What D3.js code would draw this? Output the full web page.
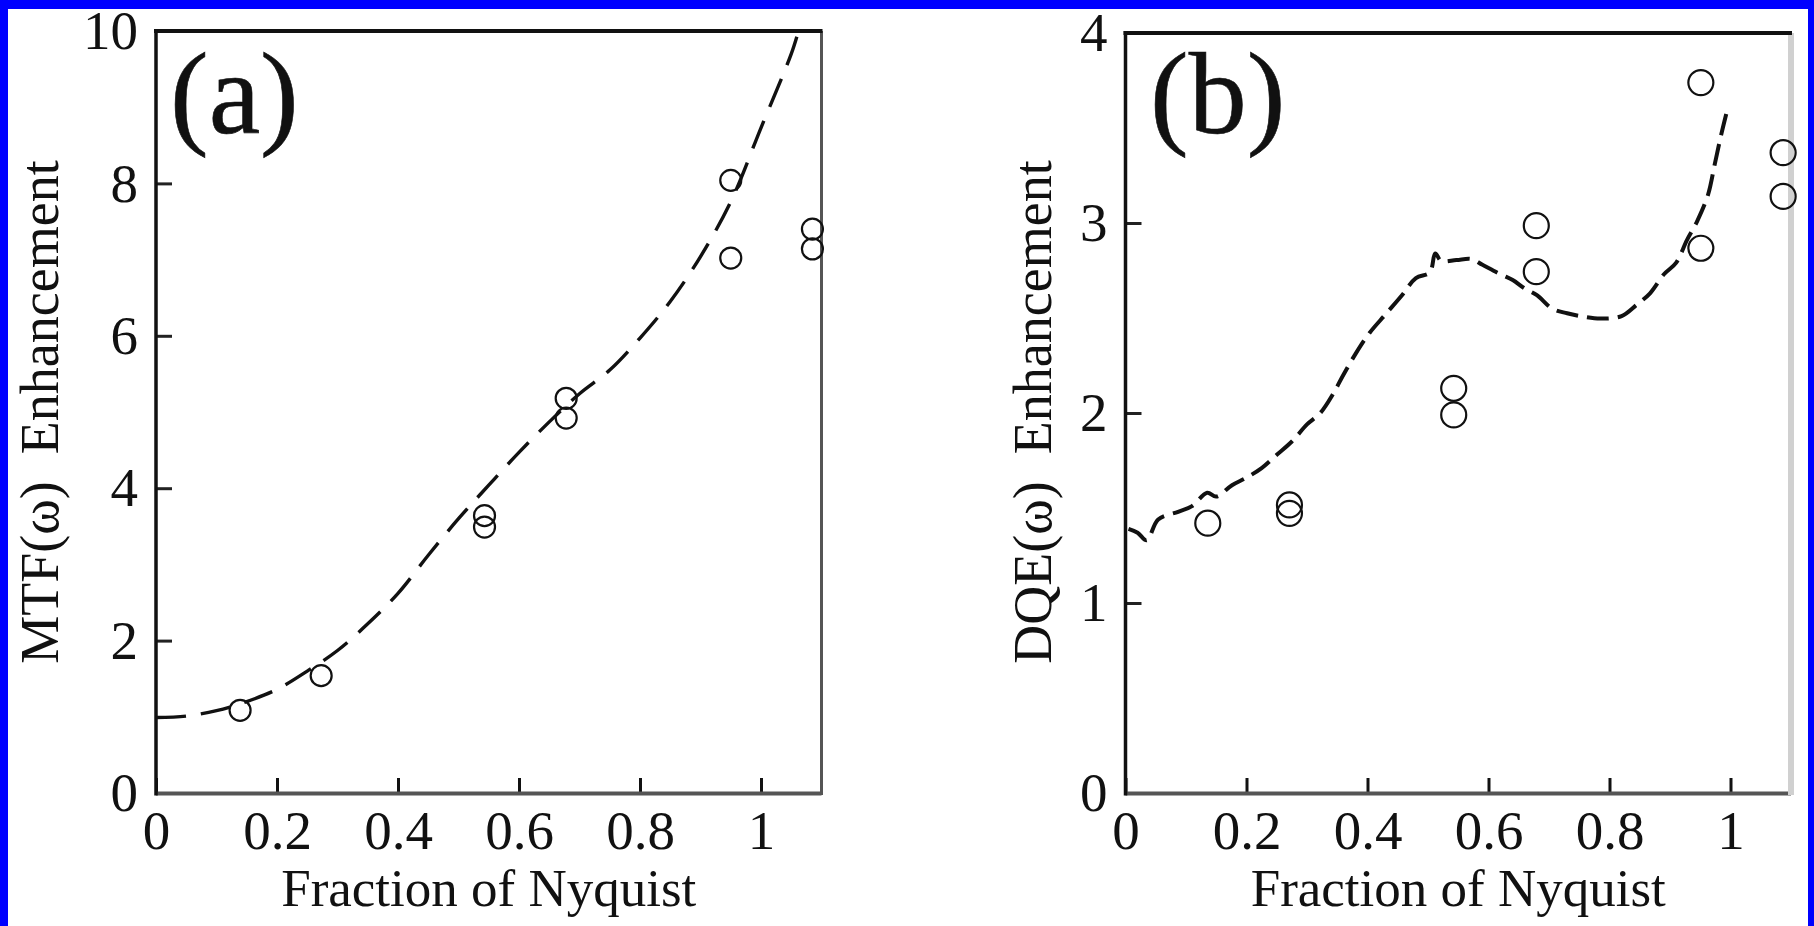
<!DOCTYPE html>
<html>
<head>
<meta charset="utf-8">
<script src="https://cdn.jsdelivr.net/npm/d3@7"></script>
<style>
  html, body { margin: 0; padding: 0; background: #fff; }
  svg { display: block; }
  text { font-family: "Liberation Serif", "Times New Roman", serif; fill: #111; }
</style>
</head>
<body>
<svg id="chart" width="1814" height="926"></svg>
<script>
// ---------- data ----------
const xTicks = [0, 0.2, 0.4, 0.6, 0.8, 1];
const xTickLabels = ["0", "0.2", "0.4", "0.6", "0.8", "1"];
const yTicksA = [0, 2, 4, 6, 8, 10];
const yTickLabelsA = ["0", "2", "4", "6", "8", "10"];
const yTicksB = [0, 1, 2, 3, 4];
const yTickLabelsB = ["0", "1", "2", "3", "4"];

// panel (a): MTF enhancement, measured points
const pointsAx = [0.139, 0.273, 0.543, 0.543, 0.678, 0.678, 0.950, 0.950, 1.085, 1.085];
const pointsAy = [1.085, 1.54, 3.64, 3.49, 5.18, 4.92, 8.04, 7.02, 7.40, 7.14];
// panel (a): dashed model curve
const curveAx = [0, 0.05, 0.1, 0.15, 0.2, 0.25, 0.3, 0.35, 0.4, 0.45, 0.5, 0.55, 0.6, 0.65, 0.7, 0.75, 0.8, 0.85, 0.9, 0.95, 1.0, 1.05, 1.062];
const curveAy = [0.99, 1.01, 1.08, 1.2, 1.36, 1.6, 1.87, 2.22, 2.62, 3.12, 3.6, 4.04, 4.47, 4.87, 5.24, 5.55, 5.97, 6.45, 7.04, 7.76, 8.73, 9.7, 10.0];

// panel (b): DQE enhancement, measured points
const pointsBx = [0.136, 0.271, 0.271, 0.5425, 0.5425, 0.679, 0.679, 0.951, 0.951, 1.087, 1.087];
const pointsBy = [1.42, 1.516, 1.472, 2.13, 1.99, 2.986, 2.744, 3.739, 2.867, 3.37, 3.14];
// panel (b): dashed model curve
const curveBx = [0.005, 0.02, 0.035, 0.054, 0.087, 0.11, 0.135, 0.15, 0.176, 0.2, 0.225, 0.25, 0.275, 0.3, 0.322, 0.343, 0.36, 0.38, 0.403, 0.43, 0.457, 0.48, 0.503, 0.512, 0.522, 0.547, 0.572, 0.59, 0.62, 0.64, 0.66, 0.68, 0.705, 0.73, 0.76, 0.785, 0.82, 0.845, 0.867, 0.89, 0.91, 0.928, 0.945, 0.963, 0.974, 0.985, 0.995];
const curveBy = [1.39, 1.37, 1.33, 1.44, 1.48, 1.51, 1.58, 1.56, 1.62, 1.66, 1.71, 1.78, 1.85, 1.94, 2.0, 2.10, 2.20, 2.31, 2.42, 2.52, 2.62, 2.71, 2.74, 2.84, 2.80, 2.805, 2.81, 2.78, 2.73, 2.70, 2.655, 2.62, 2.55, 2.525, 2.505, 2.497, 2.51, 2.57, 2.63, 2.73, 2.79, 2.91, 3.01, 3.15, 3.31, 3.47, 3.6];

// ---------- drawing ----------
const svg = d3.select("#chart");
// blue frame
svg.append("rect").attr("x", 0).attr("y", 0).attr("width", 1814).attr("height", 926).attr("fill", "#0000ff");
svg.append("rect").attr("x", 8).attr("y", 9).attr("width", 1800).attr("height", 917).attr("fill", "#ffffff");

const panels = [
  {
    x0: 156, x1: 821.5, y0: 793, y1: 31, ymax: 10,
    yTicks: yTicksA, yLabels: yTickLabelsA,
    px: pointsAx, py: pointsAy, cx: curveAx, cy: curveAy,
    r: 10.5, dash: "30,15", dashW: 3.4,
    tag: "(a)", tagX: 170, ylabel: "MTF(\u03c9)\u00a0\u00a0Enhancement", ylabelX: 58,
    rightColor: "#555", rightW: 3
  },
  {
    x0: 1125.5, x1: 1791, y0: 793, y1: 33, ymax: 4,
    yTicks: yTicksB, yLabels: yTickLabelsB,
    px: pointsBx, py: pointsBy, cx: curveBx, cy: curveBy,
    r: 12.5, dash: "22,9", dashW: 4,
    tag: "(b)", tagX: 1150, ylabel: "DQE(\u03c9)\u00a0\u00a0Enhancement", ylabelX: 1051,
    rightColor: "#d0d0d0", rightW: 6
  }
];

panels.forEach(p => {
  const x = d3.scaleLinear().domain([0, 1.1]).range([p.x0, p.x1]);
  const y = d3.scaleLinear().domain([0, p.ymax]).range([p.y0, p.y1]);
  const g = svg.append("g");

  // x axis ticks + labels
  const xa = g.append("g").attr("transform", `translate(0,${p.y0})`)
    .call(d3.axisBottom(x).tickValues(xTicks).tickSize(-15).tickPadding(17)
      .tickFormat((d, i) => xTickLabels[i]));
  xa.select(".domain").remove();
  xa.selectAll(".tick line").attr("stroke", "#111").attr("stroke-width", 3);
  xa.selectAll(".tick text").attr("font-size", 55).attr("font-family", "Liberation Serif").attr("fill", "#111");

  // y axis ticks + labels
  const ya = g.append("g").attr("transform", `translate(${p.x0},0)`)
    .call(d3.axisLeft(y).tickValues(p.yTicks).tickSize(-16).tickPadding(18)
      .tickFormat((d, i) => p.yLabels[i]));
  ya.select(".domain").remove();
  ya.selectAll(".tick line").attr("stroke", "#222").attr("stroke-width", 3);
  ya.selectAll(".tick text").attr("font-size", 55).attr("font-family", "Liberation Serif").attr("fill", "#111");

  // frame lines
  g.append("line").attr("x1", p.x0).attr("x2", p.x1).attr("y1", p.y0 + 0.5).attr("y2", p.y0 + 0.5)
    .attr("stroke", "#555").attr("stroke-width", 4);
  g.append("line").attr("x1", p.x1).attr("x2", p.x1).attr("y1", p.y1).attr("y2", p.y0 + 2)
    .attr("stroke", p.rightColor).attr("stroke-width", p.rightW);
  g.append("line").attr("x1", p.x0 - 2).attr("x2", p.x1 + 1).attr("y1", p.y1).attr("y2", p.y1)
    .attr("stroke", "#111").attr("stroke-width", 4);
  g.append("line").attr("x1", p.x0).attr("x2", p.x0).attr("y1", p.y1 - 2).attr("y2", p.y0 + 2.5)
    .attr("stroke", "#111").attr("stroke-width", 3.5);

  // dashed curve
  const line = d3.line().x(d => x(d[0])).y(d => y(d[1])).curve(d3.curveCatmullRom.alpha(0.5));
  g.append("path").datum(p.cx.map((v, i) => [v, p.cy[i]]))
    .attr("d", line).attr("fill", "none").attr("stroke", "#111")
    .attr("stroke-width", p.dashW).attr("stroke-dasharray", p.dash);

  // open circles
  g.selectAll("circle.pt").data(p.px.map((v, i) => [v, p.py[i]])).enter()
    .append("circle").attr("class", "pt")
    .attr("cx", d => x(d[0])).attr("cy", d => y(d[1])).attr("r", p.r)
    .attr("fill", "none").attr("stroke", "#111").attr("stroke-width", 2.2);

  // panel tag
  g.append("text").attr("x", p.tagX).attr("y", 133).attr("font-size", 116)
    .attr("stroke", "#111").attr("stroke-width", 0.6).text(p.tag);

  // axis titles
  g.append("text").attr("x", (p.x0 + p.x1) / 2).attr("y", 906).attr("text-anchor", "middle")
    .attr("font-size", 53).text("Fraction of Nyquist");
  g.append("text").attr("transform", `translate(${p.ylabelX},412) rotate(-90)`)
    .attr("text-anchor", "middle").attr("font-size", 54).text(p.ylabel);
});
</script>
</body>
</html>
